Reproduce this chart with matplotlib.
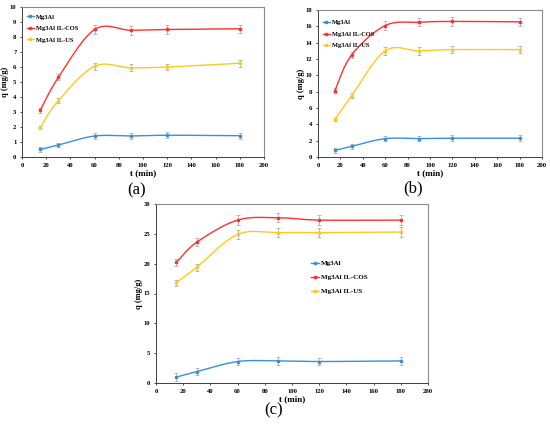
import numpy as np
import matplotlib
matplotlib.use("Agg")
import matplotlib.pyplot as plt

# ---------------------------- dados ----------------------------
t_min = [15, 30, 60, 90, 120, 180]
series_names = ["Mg3Al", "Mg3Al IL-COS", "Mg3Al IL-US"]
series_colors = ["#3A8FD9", "#FF3030", "#FFC820"]

# painel (a)
qa_mg3al = [0.5, 0.8, 1.4, 1.4, 1.45, 1.42]
qa_cos = [3.1, 5.3, 8.5, 8.45, 8.5, 8.55]
qa_us = [1.95, 3.75, 6.05, 5.95, 6.0, 6.25]
ea_mg3al = [0.15, 0.15, 0.18, 0.18, 0.2, 0.2]
ea_cos = [0.15, 0.2, 0.28, 0.3, 0.3, 0.28]
ea_us = [0.1, 0.15, 0.22, 0.22, 0.22, 0.22]

# painel (b)
qb_mg3al = [0.8, 1.3, 2.25, 2.25, 2.3, 2.3]
qb_cos = [8.1, 12.5, 16.1, 16.5, 16.6, 16.55]
qb_us = [4.6, 7.5, 13.0, 13.0, 13.15, 13.15]
eb_mg3al = [0.3, 0.3, 0.35, 0.35, 0.35, 0.35]
eb_cos = [0.3, 0.4, 0.5, 0.5, 0.5, 0.5]
eb_us = [0.2, 0.3, 0.45, 0.45, 0.45, 0.45]

# painel (c)
qc_mg3al = [1.0, 1.9, 3.6, 3.7, 3.6, 3.7]
qc_cos = [20.2, 23.6, 27.3, 27.7, 27.3, 27.3]
qc_us = [16.8, 19.4, 24.9, 25.2, 25.2, 25.3]
ec_mg3al = [0.6, 0.6, 0.6, 0.6, 0.6, 0.6]
ec_cos = [0.6, 0.7, 0.8, 0.8, 0.8, 0.8]
ec_us = [0.5, 0.6, 0.8, 0.8, 0.8, 0.8]


def smooth(x, y, n=30):
    # curva suave tipo Excel (Catmull-Rom / Bezier)
    x = np.asarray(x, float)
    y = np.asarray(y, float)
    px = np.concatenate([[x[0]], x, [x[-1]]])
    py = np.concatenate([[y[0]], y, [y[-1]]])
    xs, ys = [], []
    s = np.linspace(0, 1, n)
    for i in range(1, len(px) - 2):
        p0 = np.array([px[i], py[i]])
        p3 = np.array([px[i + 1], py[i + 1]])
        c1 = p0 + (np.array([px[i + 1], py[i + 1]]) - np.array([px[i - 1], py[i - 1]])) / 6
        c2 = p3 - (np.array([px[i + 2], py[i + 2]]) - np.array([px[i], py[i]])) / 6
        b = ((1 - s) ** 3)[:, None] * p0 + (3 * (1 - s) ** 2 * s)[:, None] * c1 \
            + (3 * (1 - s) * s ** 2)[:, None] * c2 + (s ** 3)[:, None] * p3
        xs.extend(b[:, 0])
        ys.extend(b[:, 1])
    return xs, ys


def painel(rect, dados, erros, ymax, ystep, leg_anchor, leg_fs, leg_sp):
    ax = fig.add_axes(rect)
    for q, e, nome, cor in zip(dados, erros, series_names, series_colors):
        xs, ys = smooth(t_min, q)
        ax.plot(xs, ys, color=cor, lw=1.0, zorder=3)
        ax.errorbar(t_min, q, yerr=e, fmt='none', ecolor='#a0a0a0', elinewidth=0.5,
                    capsize=1.2, capthick=0.5, zorder=2)
        ax.plot(t_min, q, linestyle='none', marker='s', ms=1.6, color=cor, zorder=4)
        ax.plot([], [], color=cor, lw=1.0, marker='s', ms=1.6, label=nome)
    ax.set_xlim(0, 200)
    ax.set_ylim(0, ymax)
    ax.set_xticks(range(0, 201, 20))
    ax.set_yticks(np.arange(0, ymax + 0.01, ystep))
    ax.tick_params(labelsize=4.8, length=1.5, width=0.5, pad=2.5)
    for lab in ax.get_xticklabels() + ax.get_yticklabels():
        lab.set_fontweight('bold')
    ax.set_xlabel('t (min)', fontsize=6.5, fontweight='bold', labelpad=1)
    ax.set_ylabel('q (mg/g)', fontsize=6.0, fontweight='bold', labelpad=0.5)
    for lado in ['left', 'bottom']:
        ax.spines[lado].set_color('#404040')
        ax.spines[lado].set_linewidth(0.7)
    for lado in ['top', 'right']:
        ax.spines[lado].set_color('#8c8c8c')
        ax.spines[lado].set_linewidth(0.8)
    ax.legend(loc='upper left', bbox_to_anchor=leg_anchor, frameon=False,
              prop={'family': 'Liberation Serif', 'weight': 'bold', 'size': leg_fs},
              handlelength=1.1, handletextpad=0.3, labelspacing=leg_sp, borderaxespad=0)
    return ax


plt.rcParams['font.family'] = ['Liberation Serif', 'DejaVu Serif']

W, H = 550, 429
fig = plt.figure(figsize=(5.5, 4.29), dpi=100)


def px_rect(l, t, r, b):
    return [l / W, 1 - b / H, (r - l) / W, (b - t) / H]


painel(px_rect(22, 7, 264, 157), [qa_mg3al, qa_cos, qa_us], [ea_mg3al, ea_cos, ea_us],
       10, 1, (0.01, 0.97), 4.6, 0.95)
painel(px_rect(318, 10, 542, 157), [qb_mg3al, qb_cos, qb_us], [eb_mg3al, eb_cos, eb_us],
       18, 2, (0.01, 0.95), 4.6, 0.95)
painel(px_rect(156, 204, 428, 383), [qc_mg3al, qc_cos, qc_us], [ec_mg3al, ec_cos, ec_us],
       30, 5, (0.56, 0.7), 5.0, 1.15)

fig.text(137 / W, 1 - 190 / H, '(a)', fontsize=12, ha='center', va='center')
fig.text(413 / W, 1 - 188 / H, '(b)', fontsize=12, ha='center', va='center')
fig.text(274 / W, 1 - 410 / H, '(c)', fontsize=12, ha='center', va='center')

fig.savefig('out.png', dpi=100)
